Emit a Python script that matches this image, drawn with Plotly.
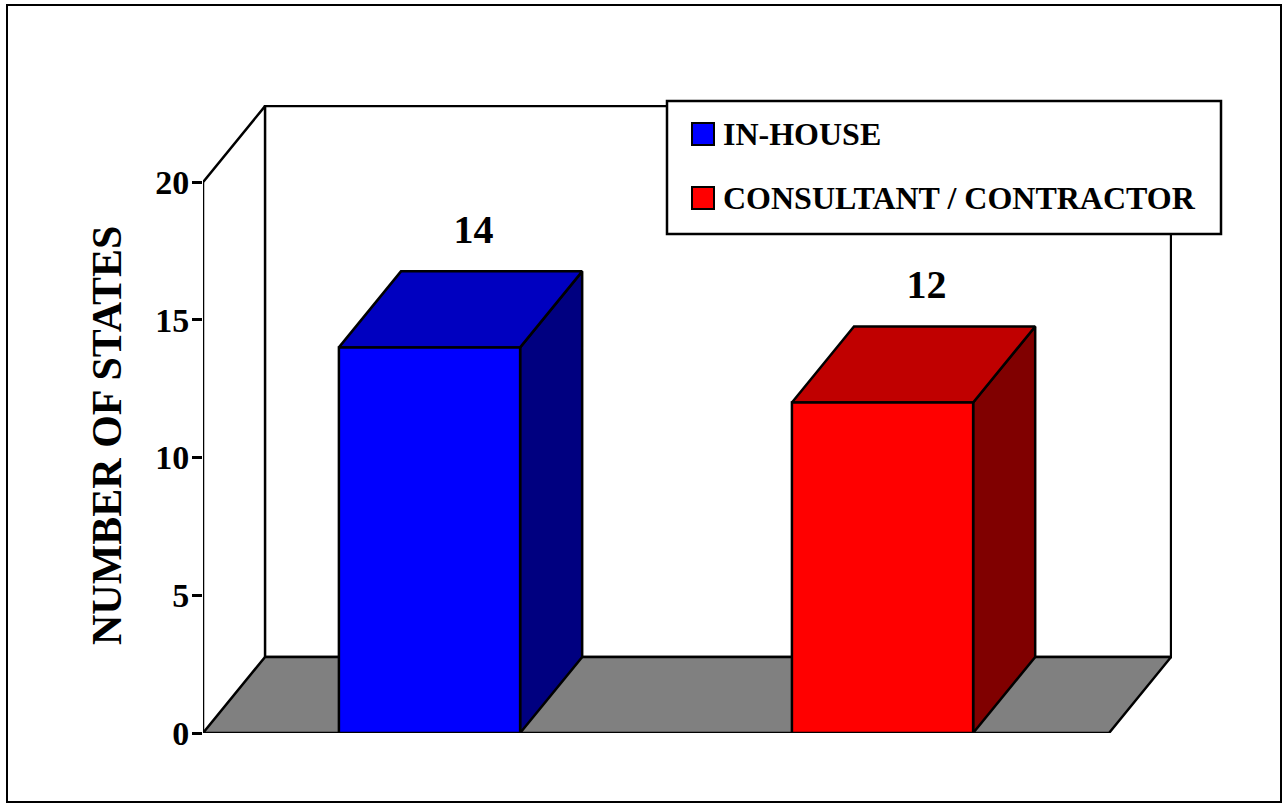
import plotly.graph_objects as go

# ---- data ----
categories = ["IN-HOUSE", "CONSULTANT / CONTRACTOR"]
values = [14, 12]
y_ticks = [0, 5, 10, 15, 20]
front_colors = ["#0000FF", "#FF0000"]
top_colors = ["#0000C0", "#C00000"]
side_colors = ["#000080", "#800000"]
axis_title = "NUMBER OF STATES"

# ---- geometry (data units) ----
HALF = 0.2          # half bar width
DX, DY = 0.137, 2.76  # depth offset
YMAX = 20
X0, X1 = -0.5, 1.5
FONT = "Liberation Serif, Times New Roman, serif"
W, H = 1283, 804
L, R, T, B = 203, 111, 105, 71
LW = 2.5

fig = go.Figure()

def poly(xs, ys, fill, width=LW):
    fig.add_trace(go.Scatter(
        x=xs + [xs[0]], y=ys + [ys[0]], mode="lines", fill="toself",
        fillcolor=fill, line=dict(color="black", width=width),
        hoverinfo="skip", showlegend=False))

# back wall
poly([X0 + DX, X1 + DX, X1 + DX, X0 + DX], [DY, DY, YMAX + DY, YMAX + DY], "white")
# floor
poly([X0, X1, X1 + DX, X0 + DX], [0, 0, DY, DY], "#808080")
# left wall edge
fig.add_trace(go.Scatter(x=[X0, X0, X0 + DX], y=[0, YMAX, YMAX + DY], mode="lines",
                         line=dict(color="black", width=LW), hoverinfo="skip", showlegend=False))

# bars
for i, v in enumerate(values):
    c = i
    # side
    poly([c + HALF, c + HALF + DX, c + HALF + DX, c + HALF], [0, DY, v + DY, v], side_colors[i])
    # top
    poly([c - HALF, c + HALF, c + HALF + DX, c - HALF + DX], [v, v, v + DY, v + DY], top_colors[i])
    # front
    poly([c - HALF, c + HALF, c + HALF, c - HALF], [0, 0, v, v], front_colors[i])

# value labels
fig.add_trace(go.Scatter(
    x=[i + 0.097 for i in range(len(values))],
    y=[v + DY + 1.38 for v in values],
    mode="text", text=[str(v) for v in values],
    textfont=dict(family=FONT, size=40, color="black", weight="bold"),
    hoverinfo="skip", showlegend=False))

pw, ph = W - L - R, H - T - B
def px(x):
    return (x - L) / pw
def py(y):
    return (H - B - y) / ph

shapes = []
annotations = []
# outer frame
shapes.append(dict(type="rect", xref="paper", yref="paper", x0=px(7), x1=px(1281), y0=py(5), y1=py(802),
                   line=dict(color="black", width=2), fillcolor="rgba(0,0,0,0)", layer="below"))
# legend box
shapes.append(dict(type="rect", xref="paper", yref="paper", x0=px(667), x1=px(1221), y0=py(101), y1=py(234),
                   line=dict(color="black", width=LW), fillcolor="white", layer="above"))
leg_y = [134, 198]
for i, name in enumerate(categories):
    yc = leg_y[i]
    shapes.append(dict(type="rect", xref="paper", yref="paper", x0=px(692), x1=px(714),
                       y0=py(yc - 11), y1=py(yc + 11),
                       line=dict(color="black", width=2), fillcolor=front_colors[i], layer="above"))
    annotations.append(dict(xref="paper", yref="paper", x=px(721), y=py(yc), text=name,
                            showarrow=False, xanchor="left", yanchor="middle",
                            font=dict(family=FONT, size=32, color="black", weight="bold")))

# y-axis title
annotations.append(dict(xref="paper", yref="paper", x=px(107), y=py(436), text=axis_title,
                        textangle=-90, showarrow=False, xanchor="center", yanchor="middle",
                        font=dict(family=FONT, size=42, color="black", weight="bold")))

fig.update_layout(
    width=W, height=H,
    margin=dict(l=L, r=R, t=T, b=B),
    paper_bgcolor="white", plot_bgcolor="white",
    xaxis=dict(range=[X0, X1 + DX + 0.002], visible=False, fixedrange=True),
    yaxis=dict(range=[0, YMAX + DY + 0.04], tickvals=y_ticks, ticktext=[str(t) for t in y_ticks],
               ticks="outside", ticklen=10, tickwidth=2.5, tickcolor="black",
               ticklabelstandoff=-4,
               showgrid=False, zeroline=False, showline=False,
               tickfont=dict(family=FONT, size=34, color="black", weight="bold"), fixedrange=True),
    shapes=shapes, annotations=annotations,
    showlegend=False,
)

fig.write_html("out.html", config={"displayModeBar": False},
               post_script="document.body.style.margin='0';document.body.style.overflow='hidden';")
